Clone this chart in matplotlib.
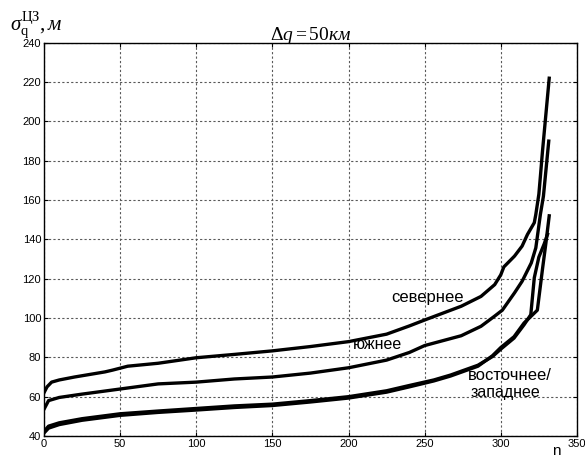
import matplotlib.pyplot as plt

plt.rcParams['font.family'] = ['Liberation Sans', 'DejaVu Sans']
plt.rcParams['mathtext.fontset'] = 'custom'
plt.rcParams['mathtext.rm'] = 'Liberation Serif'
plt.rcParams['mathtext.it'] = 'Liberation Serif:italic'

# values (n, sigma)
n_north = [0, 2, 5, 10, 20, 40, 45, 55, 75, 100, 125, 150, 175, 200, 225, 240, 250, 262,
           274, 287, 296, 300, 302, 309, 314, 317.5, 322, 323, 325, 326, 327.4, 331.8]
v_north = [62, 65, 67.4, 68.5, 70, 72.6, 73.5, 75.5, 77, 79.8, 81.5, 83.3, 85.5, 88, 91.8, 96, 99, 102.5,
           106, 111, 117, 122, 126, 131.5, 136.6, 142.5, 148.5, 152.7, 163, 172, 185, 222]

n_south = [0, 3, 10, 25, 50, 75, 100, 125, 150, 175, 200, 225, 240, 250, 274, 287,
           296, 301, 309, 314, 320, 323, 326, 328, 331.5]
v_south = [53.6, 58, 59.6, 61.3, 63.9, 66.5, 67.4, 69, 70, 72, 74.7, 78.6, 82.5, 86, 91, 95.8,
           101, 104, 112.8, 118.7, 128, 135.7, 152.7, 162, 190]

n_east = [0, 3, 10, 25, 50, 75, 100, 125, 150, 175, 200, 225, 240, 256, 267, 285,
          294.5, 300, 308.7, 315.3, 319.7, 322, 325, 328.5, 330.7]
v_east = [42.4, 45, 46.7, 48.8, 51.3, 52.7, 54, 55.3, 56.2, 58, 60, 63, 65.7, 68.5, 71, 76,
          80.4, 84.2, 89.8, 96.6, 101.7, 120.5, 131, 137.7, 142.6]

n_west = [0, 3, 10, 25, 50, 75, 100, 125, 150, 175, 200, 225, 240, 256, 267, 285,
          294.5, 300, 308.7, 315.3, 320, 324, 327.4, 329.6, 331.8]
v_west = [41.5, 44, 45.8, 48, 50.5, 52, 53.2, 54.5, 55.5, 57.3, 59.3, 62.3, 65, 68, 70.5, 75.5,
          80.8, 85, 90.5, 97.5, 101, 104, 125, 138, 152]

fig = plt.figure(figsize=(5.85, 4.62), dpi=100)
ax = fig.add_axes([0.0752, 0.0563, 0.911, 0.851])

for xs, ys in [(n_north, v_north), (n_south, v_south), (n_east, v_east), (n_west, v_west)]:
    ax.plot(xs, ys, color='black', lw=2.4, solid_joinstyle='round')

ax.set_xlim(0, 350)
ax.set_ylim(40, 240)
ax.set_xticks(range(0, 351, 50))
ax.set_yticks(range(40, 241, 20))
ax.tick_params(direction='in', top=True, right=True, labelsize=8, length=3, pad=2)
ax.grid(True, color='0.35', linestyle=(0, (2, 2)), linewidth=0.8)
for s in ax.spines.values():
    s.set_linewidth(1.0)

ax.text(252, 110.7, 'севернее', fontsize=12, ha='center', va='center')
ax.text(219, 86.3, 'южнее', fontsize=11.5, ha='center', va='center')
ax.text(306, 71, 'восточнее/', fontsize=12, ha='center', va='center')
ax.text(303, 62, 'западнее', fontsize=11.5, ha='center', va='center')

ax.set_title(r'$\Delta q = 50 км$', fontsize=14, pad=2)
fig.text(0.017, 0.935, r'$\sigma_{\mathrm{q}}^{\mathrm{ЦЗ}}, м$', fontsize=15)
fig.text(0.944, 0.015, 'n', fontsize=11)

fig.savefig('out.png', dpi=100)
